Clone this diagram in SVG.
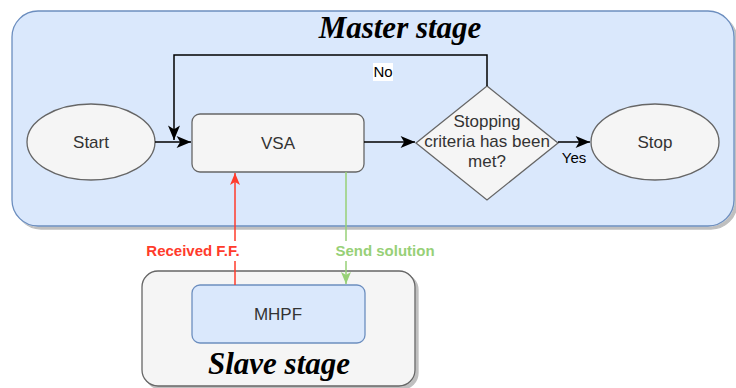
<svg xmlns="http://www.w3.org/2000/svg" width="736" height="388" viewBox="0 0 736 388">
  <style>
    .node { fill: #f5f5f5; stroke: #666666; stroke-width: 1.3; }
    .blue { fill: #dae8fc; stroke: #6c8ebf; stroke-width: 1.3; }
    .txt { font-family: "Liberation Sans", Arial, sans-serif; font-size: 17px; fill: #333333; text-anchor: middle; }
    .lbl { font-family: "Liberation Sans", Arial, sans-serif; font-size: 15px; text-anchor: middle; }
    .title { font-family: "Liberation Serif", "Times New Roman", serif; font-weight: bold; font-style: italic; font-size: 31px; fill: #000000; text-anchor: middle; }
    .edge { fill: none; stroke: #000000; stroke-width: 1.5; }
  </style>
  <defs>
    <filter id="shadow" x="-5%" y="-5%" width="115%" height="120%">
      <feOffset in="SourceAlpha" dx="3" dy="3" result="off"/>
      <feFlood flood-color="#000000" flood-opacity="0.25"/>
      <feComposite in2="off" operator="in" result="sh"/>
      <feMerge><feMergeNode in="sh"/><feMergeNode in="SourceGraphic"/></feMerge>
    </filter>
    <marker id="arrowBlack" viewBox="0 0 12 10" refX="12" refY="5" markerWidth="15" markerHeight="12" markerUnits="userSpaceOnUse" orient="auto">
      <path d="M0,0 L12,5 L0,10 L3,5 z" fill="#000000"/>
    </marker>
    <marker id="arrowRed" viewBox="0 0 12 10" refX="12" refY="5" markerWidth="12" markerHeight="10" markerUnits="userSpaceOnUse" orient="auto">
      <path d="M0,0 L12,5 L0,10 L3,5 z" fill="#ff3b2b"/>
    </marker>
    <marker id="arrowGreen" viewBox="0 0 12 10" refX="12" refY="5" markerWidth="12" markerHeight="10" markerUnits="userSpaceOnUse" orient="auto">
      <path d="M0,0 L12,5 L0,10 L3,5 z" fill="#97d077"/>
    </marker>
  </defs>

  <!-- containers -->
  <g id="master-stage">
    <rect class="blue" x="12" y="11" width="722" height="215" rx="26" filter="url(#shadow)"/>
    <text class="title" x="400" y="38">Master stage</text>
  </g>
  <g id="slave-stage">
    <rect class="node" x="142" y="271" width="273" height="115" rx="16" filter="url(#shadow)"/>
    <text class="title" x="279" y="374">Slave stage</text>
  </g>

  <!-- nodes -->
  <g id="start">
    <ellipse class="node" cx="91" cy="142" rx="64" ry="38"/>
    <text class="txt" x="91" y="148">Start</text>
  </g>
  <g id="vsa">
    <rect class="node" x="192" y="114" width="172" height="58" rx="8"/>
    <text class="txt" x="278" y="149">VSA</text>
  </g>
  <g id="decision">
    <polygon class="node" points="487,86 558,143 487,200 416,143"/>
    <text class="txt" x="487" y="127">Stopping</text>
    <text class="txt" x="487" y="147">criteria has been</text>
    <text class="txt" x="487" y="167">met?</text>
  </g>
  <g id="stop">
    <ellipse class="node" cx="655" cy="142" rx="64" ry="38"/>
    <text class="txt" x="655" y="148">Stop</text>
  </g>
  <g id="mhpf">
    <rect class="blue" x="192" y="285" width="173" height="58" rx="8"/>
    <text class="txt" x="278" y="320">MHPF</text>
  </g>

  <!-- connectors -->
  <g id="connectors">
    <path class="edge" d="M155,142 H191" marker-end="url(#arrowBlack)"/>
    <path class="edge" d="M364,142 H415" marker-end="url(#arrowBlack)"/>
    <path class="edge" stroke-width="2" d="M558,142 H590" marker-end="url(#arrowBlack)"/>
    <path class="edge" d="M487,86 V55 H174 V140" marker-end="url(#arrowBlack)"/>
    <path fill="none" stroke="#ff3b2b" stroke-width="1.5" d="M235,285 V173" marker-end="url(#arrowRed)"/>
    <path fill="none" stroke="#97d077" stroke-width="1.5" d="M346,172 V284" marker-end="url(#arrowGreen)"/>

    <rect x="373" y="63" width="20" height="18" fill="#ffffff"/>
    <text class="lbl" x="383" y="77" fill="#000000">No</text>
    <text class="lbl" x="574" y="163" fill="#000000">Yes</text>

    <rect x="143" y="241" width="100" height="20" fill="#ffffff"/>
    <text class="lbl" x="193" y="256" font-weight="bold" fill="#ff3b2b">Received F.F.</text>
    <rect x="332" y="241" width="106" height="20" fill="#ffffff"/>
    <text class="lbl" x="385" y="256" font-weight="bold" fill="#97d077">Send solution</text>
  </g>
</svg>
